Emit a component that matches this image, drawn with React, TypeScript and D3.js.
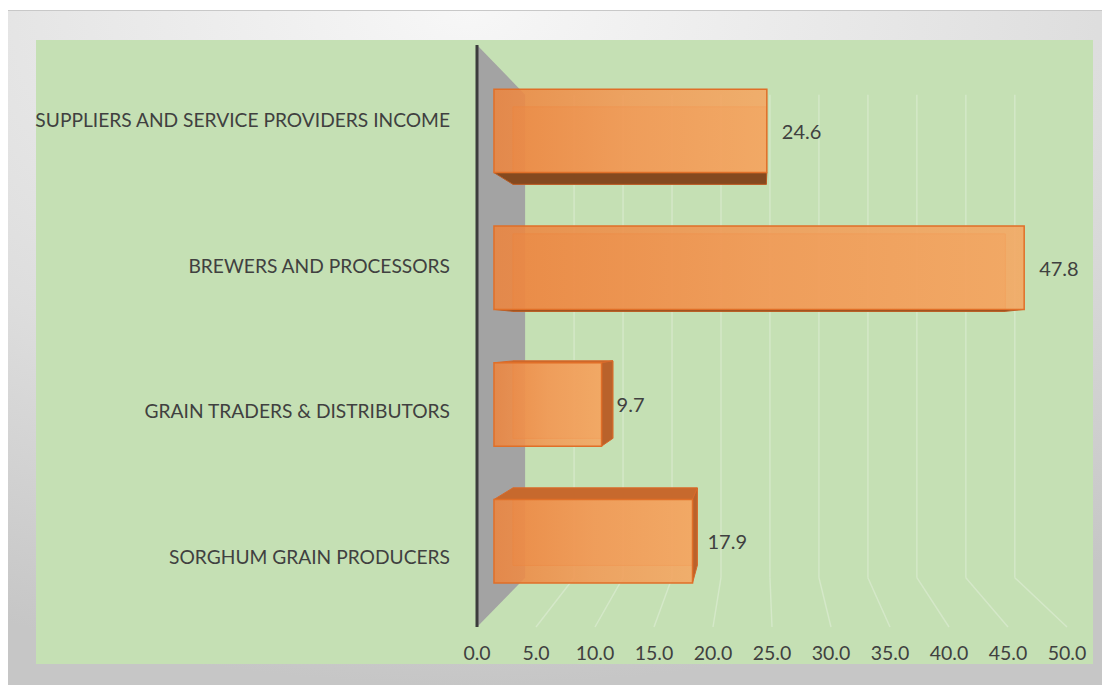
import React from "react";
import * as d3 from "d3";

const categories = [
  "SUPPLIERS AND SERVICE PROVIDERS INCOME",
  "BREWERS AND PROCESSORS",
  "GRAIN TRADERS & DISTRIBUTORS",
  "SORGHUM GRAIN PRODUCERS",
];
const values = [24.6, 47.8, 9.7, 17.9];
const tickValues = [0, 5, 10, 15, 20, 25, 30, 35, 40, 45, 50];

const W = 1110;
const H = 685;
const VP = { x: 760, y: 337 };
const S_BAR_FRONT = 0.94;
const S_BAR_BACK = 0.873;
const S_WALL_BACK = 0.83;
const FONT = "Lato, 'Open Sans', sans-serif";

const xFront = d3.scaleLinear().domain([0, 50]).range([477, 1067]);
const yBand = d3
  .scaleBand<string>()
  .domain(categories)
  .range([45, 627])
  .paddingInner(0.39)
  .paddingOuter(0.195);

const proj = (x: number, y: number, s: number): [number, number] => [
  VP.x + (x - VP.x) * s,
  VP.y + (y - VP.y) * s,
];
const poly = (pts: [number, number][]) => pts.map((p) => p.join(",")).join(" ");

export default function App() {
  const [yTop, yBot] = yBand.range();
  const wall = poly([
    proj(xFront(0), yTop, 1),
    proj(xFront(0), yTop, S_WALL_BACK),
    proj(xFront(0), yBot, S_WALL_BACK),
    proj(xFront(0), yBot, 1),
  ]);

  return (
    <svg
      width={W}
      height={H}
      style={{ position: "absolute", left: 0, top: 0 }}
      fontFamily={FONT}
    >
      <defs>
        <radialGradient id="frame" cx="42%" cy="0%" r="100%">
          <stop offset="0" stopColor="#f7f7f7" />
          <stop offset="0.6" stopColor="#dddddd" />
          <stop offset="1" stopColor="#c6c6c6" />
        </radialGradient>
        <linearGradient id="barFront" x1="0" x2="1" y1="0" y2="0">
          <stop offset="0" stopColor="#ec853f" />
          <stop offset="0.5" stopColor="#f29a56" />
          <stop offset="1" stopColor="#f5a762" />
        </linearGradient>
      </defs>
      <rect x={0} y={0} width={W} height={H} fill="#ffffff" />
      <rect x={8} y={10} width={1094} height={675} fill="url(#frame)" />
      <line x1={8} x2={1102} y1={10.5} y2={10.5} stroke="#c8c8c8" />
      <rect x={36} y={40} width={1057} height={624} fill="#c5e0b4" />

      {/* back wall and floor gridlines */}
      {tickValues.slice(1).map((t) => {
        const a = proj(xFront(t), yTop, S_WALL_BACK);
        const b = proj(xFront(t), yBot, S_WALL_BACK);
        const c = proj(xFront(t), yBot, 1);
        return (
          <g key={t} stroke="#d5e8c9" strokeWidth={1.4} fill="none">
            <line x1={a[0]} y1={a[1]} x2={b[0]} y2={b[1]} />
            <line x1={b[0]} y1={b[1]} x2={c[0]} y2={c[1]} />
          </g>
        );
      })}

      {/* side wall */}
      <polygon points={wall} fill="#a3a3a3" />
      <line
        x1={xFront(0)}
        x2={xFront(0)}
        y1={yTop}
        y2={yBot}
        stroke="#3c3c3c"
        strokeWidth={3}
      />

      {/* bars */}
      {categories.map((cat, i) => {
        const v = values[i];
        const y0 = yBand(cat)!;
        const y1 = y0 + yBand.bandwidth();
        const x0 = xFront(0);
        const x1 = xFront(v);
        const f = (x: number, y: number) => proj(x, y, S_BAR_FRONT);
        const b = (x: number, y: number) => proj(x, y, S_BAR_BACK);
        const fTL = f(x0, y0), fTR = f(x1, y0), fBR = f(x1, y1), fBL = f(x0, y1);
        const bTL = b(x0, y0), bTR = b(x1, y0), bBR = b(x1, y1), bBL = b(x0, y1);
        const faces: JSX.Element[] = [];
        faces.push(
          <polygon
            key="back"
            points={poly([bTL, bTR, bBR, bBL])}
            fill="#e98a46"
            fillOpacity={0.5}
            stroke="#dc6f2c"
            strokeOpacity={0.7}
          />
        );
        if (fBL[1] < VP.y) {
          faces.push(
            <polygon
              key="bottom"
              points={poly([fBL, fBR, bBR, bBL])}
              fill="#84491f"
              stroke="#b85a22"
              strokeWidth={1}
            />
          );
        }
        if (fTL[1] > VP.y) {
          faces.push(
            <polygon
              key="top"
              points={poly([fTL, fTR, bTR, bTL])}
              fill="#c7692d"
              stroke="#d8692a"
              strokeWidth={1}
            />
          );
        }
        if (fTR[0] < VP.x) {
          faces.push(
            <polygon
              key="right"
              points={poly([fTR, bTR, bBR, fBR])}
              fill="#b9622b"
              stroke="#d8692a"
              strokeWidth={1}
            />
          );
        }
        faces.push(
          <polygon
            key="front"
            points={poly([fTL, fTR, fBR, fBL])}
            fill="url(#barFront)"
            fillOpacity={0.88}
            stroke="#e06f28"
            strokeWidth={1.5}
          />
        );
        const cy = (fTL[1] + fBL[1]) / 2;
        return (
          <g key={cat}>
            {faces}
            <text
              x={fTR[0] + 15}
              y={cy}
              dominantBaseline="central"
              fontSize={20}
              fill="#404040"
            >
              {v.toFixed(1)}
            </text>
          </g>
        );
      })}

      {/* category labels */}
      {categories.map((cat) => (
        <text
          key={cat}
          x={450}
          y={yBand(cat)! + yBand.bandwidth() / 2 + 2}
          textAnchor="end"
          dominantBaseline="central"
          fontSize={19.2}
          fill="#404040"
        >
          {cat}
        </text>
      ))}

      {/* x tick labels */}
      {tickValues.map((t) => (
        <text
          key={t}
          x={xFront(t)}
          y={660}
          textAnchor="middle"
          fontSize={19.5}
          fill="#404040"
        >
          {t.toFixed(1)}
        </text>
      ))}
    </svg>
  );
}
